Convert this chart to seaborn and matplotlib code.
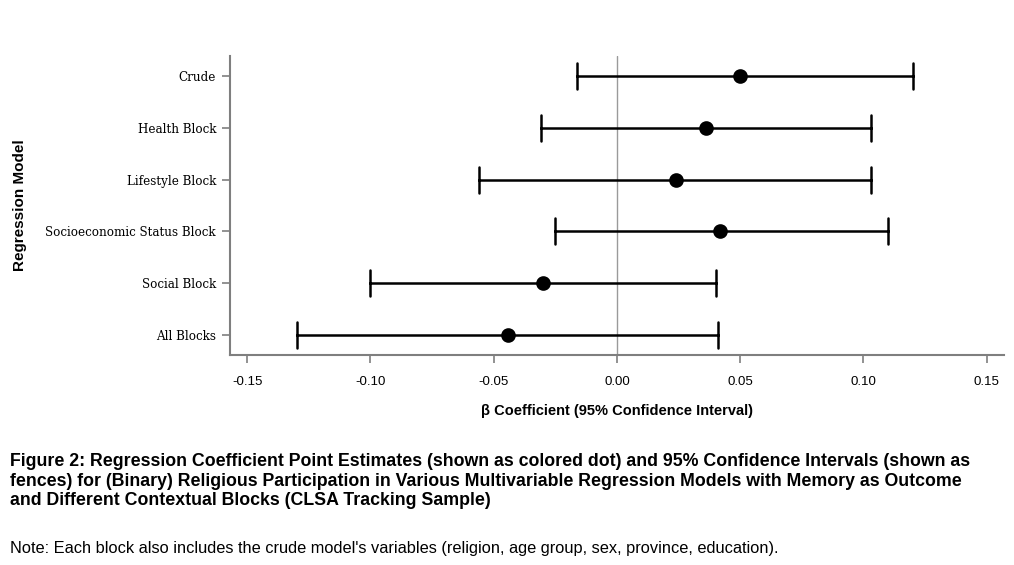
import matplotlib
matplotlib.use("Agg")
import matplotlib.pyplot as plt
import seaborn as sns
import pandas as pd

models = ["Crude", "Health Block", "Lifestyle Block", "Socioeconomic Status Block",
          "Social Block", "All Blocks"]
estimate = [0.050, 0.036, 0.024, 0.042, -0.030, -0.044]
ci_low = [-0.016, -0.031, -0.056, -0.025, -0.100, -0.130]
ci_high = [0.120, 0.103, 0.103, 0.110, 0.040, 0.041]
xticks = [-0.15, -0.10, -0.05, 0.00, 0.05, 0.10, 0.15]

sns.set_theme(style="white")
plt.rcParams["font.family"] = ["Liberation Sans", "DejaVu Sans"]
plt.rcParams["text.color"] = "black"
plt.rcParams["axes.labelcolor"] = "black"
plt.rcParams["xtick.color"] = "black"
plt.rcParams["ytick.color"] = "black"

rows = []
for m, lo, e, hi in zip(models, ci_low, estimate, ci_high):
    for v in (lo, e, hi):
        rows.append({"model": m, "value": v})
df = pd.DataFrame(rows)

fig = plt.figure(figsize=(10.14, 5.65), dpi=100)
ax = fig.add_axes([0.2268, 0.3717, 0.7632, 0.5292])

ax.axvline(0, color="#9a9a9a", lw=1.0, zorder=0)
sns.pointplot(data=df, x="value", y="model", order=models, estimator="median",
              errorbar=("pi", 100), capsize=0.5, color="black", linestyle="none",
              markersize=8.5, err_kws={"linewidth": 1.8}, ax=ax)

ax.set_xlim(-0.157, 0.157)
ax.set_ylim(5.38, -0.38)
ax.set_xticks(xticks)
ax.set_xticklabels([f"{t:.2f}" for t in xticks], fontsize=9.5)
ax.set_yticks(range(len(models)))
ax.set_yticklabels(models, fontfamily="DejaVu Serif", fontsize=8.6)
for s in ["top", "right"]:
    ax.spines[s].set_visible(False)
for s in ["left", "bottom"]:
    ax.spines[s].set_color("#7f7f7f")
    ax.spines[s].set_linewidth(1.5)
ax.tick_params(axis="both", which="major", direction="out", length=6, width=1.2,
               color="#7f7f7f", labelcolor="black", left=True, bottom=True, pad=4)
ax.tick_params(axis="x", pad=9)

ax.set_xlabel("β Coefficient (95% Confidence Interval)", fontweight="bold",
              fontsize=10.5, labelpad=12)
ax.set_ylabel("Regression Model", fontweight="bold", fontsize=11)
ax.yaxis.set_label_coords(-0.262, 0.5)

caption = ("Figure 2: Regression Coefficient Point Estimates (shown as colored dot) and 95% Confidence Intervals (shown as\n"
           "fences) for (Binary) Religious Participation in Various Multivariable Regression Models with Memory as Outcome\n"
           "and Different Contextual Blocks (CLSA Tracking Sample)")
fig.text(10 / 1014, 1 - 453 / 565, caption, ha="left", va="top", fontweight="bold",
         fontsize=12.8, linespacing=1.2)
fig.text(10 / 1014, 1 - 548 / 565,
         "Note: Each block also includes the crude model's variables (religion, age group, sex, province, education).",
         ha="left", va="center", fontsize=11.8)

fig.savefig("out.png", dpi=100)
